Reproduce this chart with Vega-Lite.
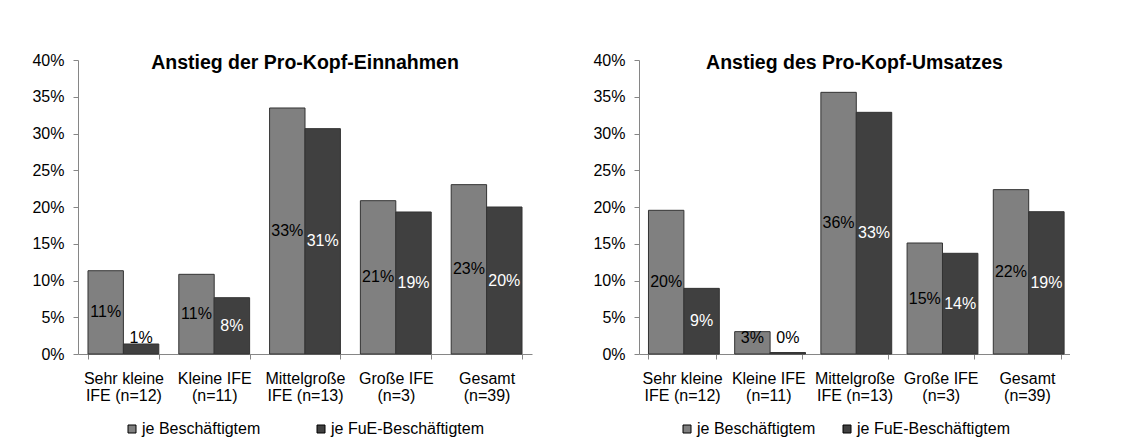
{
  "$schema": "https://vega.github.io/schema/vega-lite/v6.json",
  "background": "white",
  "padding": {"left": 31, "top": 52, "right": 0, "bottom": 0},
  "spacing": 60,
  "config": {
    "view": {"stroke": null},
    "font": "Liberation Sans",
    "axis": {"labelFont": "Liberation Sans", "labelFontSize": 16, "labelColor": "#000000", "domainColor": "#868686", "tickColor": "#868686", "grid": false, "title": null, "labelOverlap": false}
  },
  "data": {"values": [
    {"chart": "E", "cat": "Sehr kleine|IFE (n=12)", "series": "je Beschäftigtem", "v": 0.1133},
    {"chart": "E", "cat": "Sehr kleine|IFE (n=12)", "series": "je FuE-Beschäftigtem", "v": 0.0136},
    {"chart": "E", "cat": "Kleine IFE|(n=11)", "series": "je Beschäftigtem", "v": 0.1084},
    {"chart": "E", "cat": "Kleine IFE|(n=11)", "series": "je FuE-Beschäftigtem", "v": 0.0766},
    {"chart": "E", "cat": "Mittelgroße|IFE (n=13)", "series": "je Beschäftigtem", "v": 0.3347},
    {"chart": "E", "cat": "Mittelgroße|IFE (n=13)", "series": "je FuE-Beschäftigtem", "v": 0.3066},
    {"chart": "E", "cat": "Große IFE|(n=3)", "series": "je Beschäftigtem", "v": 0.2086},
    {"chart": "E", "cat": "Große IFE|(n=3)", "series": "je FuE-Beschäftigtem", "v": 0.1932},
    {"chart": "E", "cat": "Gesamt|(n=39)", "series": "je Beschäftigtem", "v": 0.2304},
    {"chart": "E", "cat": "Gesamt|(n=39)", "series": "je FuE-Beschäftigtem", "v": 0.2000},
    {"chart": "U", "cat": "Sehr kleine|IFE (n=12)", "series": "je Beschäftigtem", "v": 0.1955},
    {"chart": "U", "cat": "Sehr kleine|IFE (n=12)", "series": "je FuE-Beschäftigtem", "v": 0.0893},
    {"chart": "U", "cat": "Kleine IFE|(n=11)", "series": "je Beschäftigtem", "v": 0.0304},
    {"chart": "U", "cat": "Kleine IFE|(n=11)", "series": "je FuE-Beschäftigtem", "v": 0.0020},
    {"chart": "U", "cat": "Mittelgroße|IFE (n=13)", "series": "je Beschäftigtem", "v": 0.3560},
    {"chart": "U", "cat": "Mittelgroße|IFE (n=13)", "series": "je FuE-Beschäftigtem", "v": 0.3288},
    {"chart": "U", "cat": "Große IFE|(n=3)", "series": "je Beschäftigtem", "v": 0.1510},
    {"chart": "U", "cat": "Große IFE|(n=3)", "series": "je FuE-Beschäftigtem", "v": 0.1370},
    {"chart": "U", "cat": "Gesamt|(n=39)", "series": "je Beschäftigtem", "v": 0.2236},
    {"chart": "U", "cat": "Gesamt|(n=39)", "series": "je FuE-Beschäftigtem", "v": 0.1936}
  ]},
  "transform": [{"calculate": "max(datum.v / 2, 0.022)", "as": "ly"}],
  "resolve": {"scale": {"x": "independent", "y": "independent", "color": "shared"}, "legend": {"color": "independent"}},
  "hconcat": [
    {
      "width": 454,
      "height": 294,
      "title": {"text": "Anstieg der Pro-Kopf-Einnahmen", "font": "Liberation Sans", "fontSize": 19.5, "fontWeight": "bold", "color": "#000000", "anchor": "middle", "frame": "group", "baseline": "alphabetic", "offset": -36},
      "transform": [{"filter": "datum.chart === 'E'"}],
      "encoding": {
        "x": {"field": "cat", "type": "nominal", "sort": ["Sehr kleine|IFE (n=12)", "Kleine IFE|(n=11)", "Mittelgroße|IFE (n=13)", "Große IFE|(n=3)", "Gesamt|(n=39)"], "scale": {"paddingInner": 0.22, "paddingOuter": 0.11}, "axis": {"labelAngle": 0, "labelExpr": "datum.value ? split(datum.value, '|') : ''", "labelLineHeight": 17, "labelBaseline": "top", "tickBand": "extent", "tickSize": 5, "labelPadding": 11}},
        "xOffset": {"field": "series", "type": "nominal", "sort": ["je Beschäftigtem", "je FuE-Beschäftigtem"], "scale": {"paddingInner": 0, "paddingOuter": 0}}
      },
      "layer": [
        {
          "mark": {"type": "bar", "stroke": "#333333", "strokeWidth": 1},
          "encoding": {
            "y": {"field": "v", "type": "quantitative", "scale": {"domain": [0, 0.4]}, "axis": {"values": [0, 0.05, 0.1, 0.15, 0.2, 0.25, 0.3, 0.35, 0.4], "format": ".0%", "tickSize": 5, "labelPadding": 9, "labelOverlap": false}},
            "color": {"field": "series", "type": "nominal", "scale": {"domain": ["je Beschäftigtem", "je FuE-Beschäftigtem"], "range": ["#808080", "#404040"]}, "legend": {"title": null, "orient": "none", "legendX": 46, "legendY": 361, "direction": "horizontal", "columns": 2, "columnPadding": 52, "symbolType": "square", "symbolSize": 64, "symbolStrokeColor": "#000000", "symbolStrokeWidth": 1, "symbolOpacity": 1, "labelFontSize": 16, "labelFont": "Liberation Sans", "labelColor": "#000000", "labelOffset": 2, "padding": 0}}
          }
        },
        {
          "mark": {"type": "text", "fontSize": 16, "font": "Liberation Sans", "baseline": "middle", "align": "center"},
          "encoding": {
            "y": {"field": "ly", "type": "quantitative", "scale": {"domain": [0, 0.4]}, "axis": {"values": [0, 0.05, 0.1, 0.15, 0.2, 0.25, 0.3, 0.35, 0.4], "format": ".0%", "tickSize": 5, "labelPadding": 9, "labelOverlap": false}},
            "text": {"field": "v", "type": "quantitative", "format": ".0%"},
            "color": {"condition": {"test": "datum.series === 'je FuE-Beschäftigtem' && datum.v >= 0.02", "value": "#ffffff"}, "value": "#000000"}
          }
        }
      ]
    },
    {
      "width": 431,
      "height": 294,
      "title": {"text": "Anstieg des Pro-Kopf-Umsatzes", "font": "Liberation Sans", "fontSize": 19.5, "fontWeight": "bold", "color": "#000000", "anchor": "middle", "frame": "group", "baseline": "alphabetic", "offset": -36},
      "transform": [{"filter": "datum.chart === 'U'"}],
      "encoding": {
        "x": {"field": "cat", "type": "nominal", "sort": ["Sehr kleine|IFE (n=12)", "Kleine IFE|(n=11)", "Mittelgroße|IFE (n=13)", "Große IFE|(n=3)", "Gesamt|(n=39)"], "scale": {"paddingInner": 0.22, "paddingOuter": 0.11}, "axis": {"labelAngle": 0, "labelExpr": "datum.value ? split(datum.value, '|') : ''", "labelLineHeight": 17, "labelBaseline": "top", "tickBand": "extent", "tickSize": 5, "labelPadding": 11}},
        "xOffset": {"field": "series", "type": "nominal", "sort": ["je Beschäftigtem", "je FuE-Beschäftigtem"], "scale": {"paddingInner": 0, "paddingOuter": 0}}
      },
      "layer": [
        {
          "mark": {"type": "bar", "stroke": "#333333", "strokeWidth": 1},
          "encoding": {
            "y": {"field": "v", "type": "quantitative", "scale": {"domain": [0, 0.4]}, "axis": {"values": [0, 0.05, 0.1, 0.15, 0.2, 0.25, 0.3, 0.35, 0.4], "format": ".0%", "tickSize": 5, "labelPadding": 9, "labelOverlap": false}},
            "color": {"field": "series", "type": "nominal", "scale": {"domain": ["je Beschäftigtem", "je FuE-Beschäftigtem"], "range": ["#808080", "#404040"]}, "legend": {"title": null, "orient": "none", "legendX": 40, "legendY": 361, "direction": "horizontal", "columns": 2, "columnPadding": 23, "symbolType": "square", "symbolSize": 64, "symbolStrokeColor": "#000000", "symbolStrokeWidth": 1, "symbolOpacity": 1, "labelFontSize": 16, "labelFont": "Liberation Sans", "labelColor": "#000000", "labelOffset": 2, "padding": 0}}
          }
        },
        {
          "mark": {"type": "text", "fontSize": 16, "font": "Liberation Sans", "baseline": "middle", "align": "center"},
          "encoding": {
            "y": {"field": "ly", "type": "quantitative", "scale": {"domain": [0, 0.4]}, "axis": {"values": [0, 0.05, 0.1, 0.15, 0.2, 0.25, 0.3, 0.35, 0.4], "format": ".0%", "tickSize": 5, "labelPadding": 9, "labelOverlap": false}},
            "text": {"field": "v", "type": "quantitative", "format": ".0%"},
            "color": {"condition": {"test": "datum.series === 'je FuE-Beschäftigtem' && datum.v >= 0.02", "value": "#ffffff"}, "value": "#000000"}
          }
        }
      ]
    }
  ]
}
